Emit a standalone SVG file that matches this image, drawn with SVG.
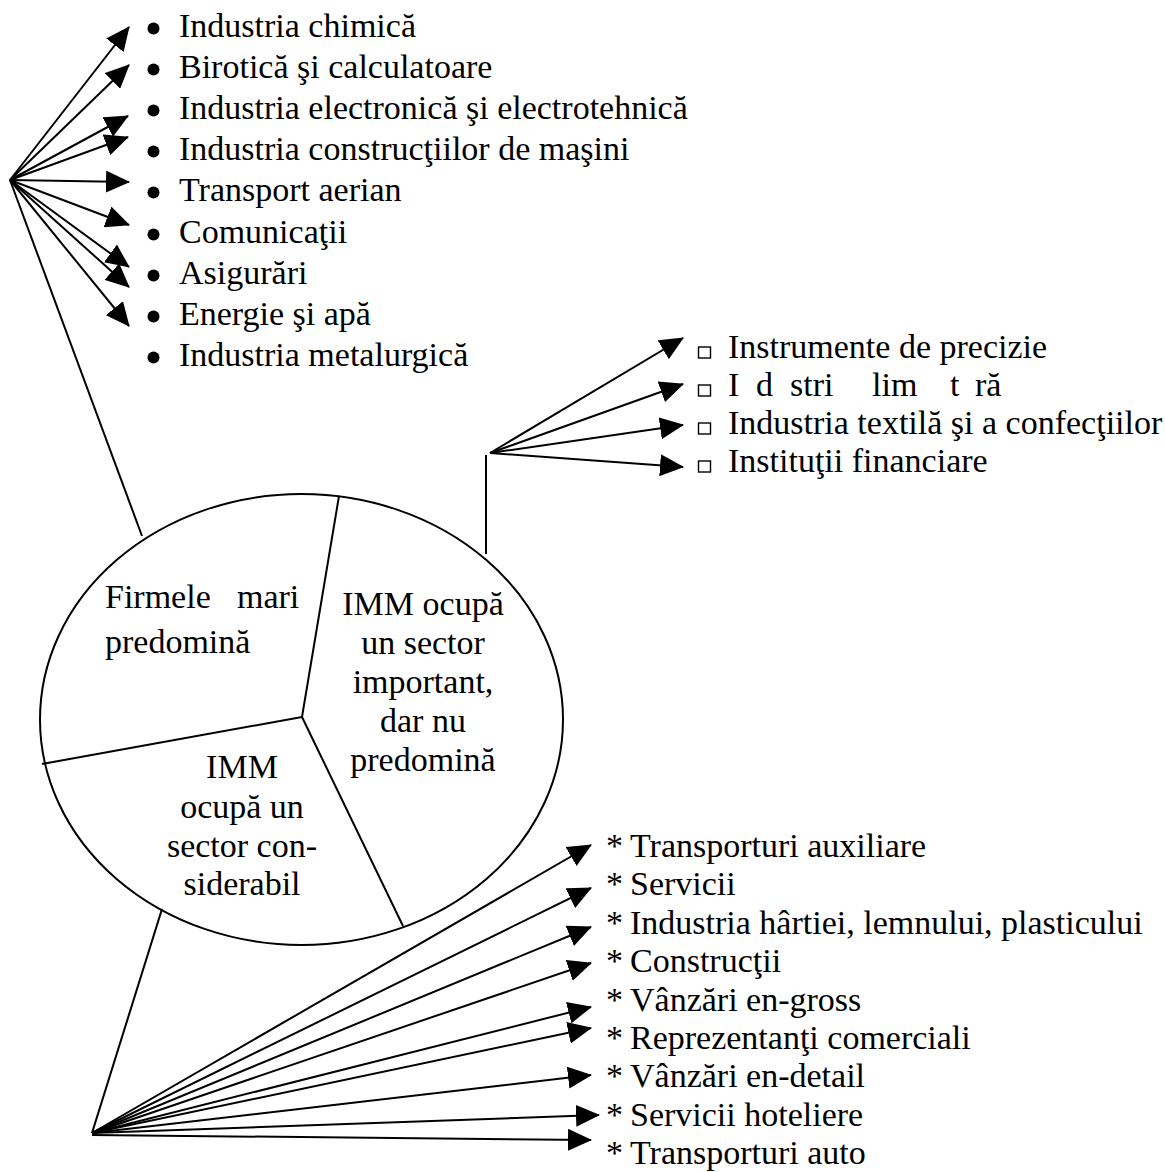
<svg xmlns="http://www.w3.org/2000/svg" width="1165" height="1172" viewBox="0 0 1165 1172">
<style>
  text { font-family: "Liberation Serif", "Times New Roman", serif; font-size: 34px; fill: #000; }
  .c { text-anchor: middle; }
  .ln { stroke: #000; stroke-width: 2; fill: none; }
  .ar { stroke: #000; stroke-width: 2; fill: none; marker-end: url(#ah); }
  .dot { fill: #000; }
  .sq { fill: #fff; stroke: #000; stroke-width: 1.4; }
</style>
<defs>
  <marker id="ah" markerUnits="userSpaceOnUse" markerWidth="24" markerHeight="22" refX="23" refY="11" orient="auto">
    <path d="M0,0 L24,11 L0,22 z" fill="#000"/>
  </marker>
</defs>
<rect width="1165" height="1172" fill="#fff"/>

<g id="connectors">
  <!-- top-left fan -->
  <line class="ar" x1="10" y1="180" x2="129" y2="27"/>
  <line class="ar" x1="10" y1="180" x2="129" y2="65"/>
  <line class="ar" x1="10" y1="180" x2="128" y2="116"/>
  <line class="ar" x1="10" y1="180" x2="128" y2="137"/>
  <line class="ar" x1="10" y1="180" x2="129" y2="182"/>
  <line class="ar" x1="10" y1="180" x2="129" y2="225"/>
  <line class="ar" x1="10" y1="180" x2="129" y2="267"/>
  <line class="ar" x1="10" y1="180" x2="129" y2="287"/>
  <line class="ar" x1="10" y1="180" x2="129" y2="326"/>
  <line class="ln" x1="10" y1="180" x2="142" y2="536"/>
  <!-- right fan -->
  <line class="ln" x1="486" y1="455" x2="486" y2="554"/>
  <line class="ar" x1="490" y1="453" x2="683" y2="338"/>
  <line class="ar" x1="490" y1="453" x2="683" y2="384"/>
  <line class="ar" x1="490" y1="453" x2="683" y2="425"/>
  <line class="ar" x1="490" y1="453" x2="683" y2="467"/>
  <!-- bottom fan -->
  <line class="ln" x1="92" y1="1133" x2="162" y2="909"/>
  <line class="ar" x1="92" y1="1133" x2="591" y2="845"/>
  <line class="ar" x1="92" y1="1133" x2="591" y2="888"/>
  <line class="ar" x1="92" y1="1133" x2="591" y2="927"/>
  <line class="ar" x1="92" y1="1133" x2="591" y2="963"/>
  <line class="ar" x1="92" y1="1133" x2="591" y2="1007"/>
  <line class="ar" x1="92" y1="1133" x2="591" y2="1028"/>
  <line class="ar" x1="92" y1="1133" x2="591" y2="1075"/>
  <line class="ar" x1="92" y1="1133" x2="599" y2="1115"/>
  <line class="ar" x1="92" y1="1135" x2="591" y2="1140"/>
</g>

<g id="pie">
  <ellipse class="ln" cx="301.5" cy="719.5" rx="261.5" ry="225.5"/>
  <line class="ln" x1="302" y1="717" x2="339" y2="496"/>
  <line class="ln" x1="302" y1="717" x2="42" y2="764"/>
  <line class="ln" x1="302" y1="717" x2="403" y2="926"/>
</g>

<g id="sector-firme-mari">
  <text x="105" y="608">Firmele</text>
  <text x="237" y="608">mari</text>
  <text x="105" y="653">predomină</text>
</g>

<g id="sector-imm-important">
  <text class="c" x="423" y="615">IMM ocupă</text>
  <text class="c" x="423" y="654">un sector</text>
  <text class="c" x="423" y="693">important,</text>
  <text class="c" x="423" y="732">dar nu</text>
  <text class="c" x="423" y="771">predomină</text>
</g>

<g id="sector-imm-considerabil">
  <text class="c" x="242" y="778">IMM</text>
  <text class="c" x="242" y="818">ocupă un</text>
  <text class="c" x="242" y="857">sector con-</text>
  <text class="c" x="242" y="895">siderabil</text>
</g>

<g id="list-firme-mari">
  <circle class="dot" cx="153.5" cy="28.5" r="6"/><text x="179" y="37">Industria chimică</text>
  <circle class="dot" cx="153.5" cy="69.5" r="6"/><text x="179" y="78">Birotică şi calculatoare</text>
  <circle class="dot" cx="153.5" cy="110.5" r="6"/><text x="179" y="119">Industria electronică şi electrotehnică</text>
  <circle class="dot" cx="153.5" cy="151.5" r="6"/><text x="179" y="160">Industria construcţiilor de maşini</text>
  <circle class="dot" cx="153.5" cy="192.5" r="6"/><text x="179" y="201">Transport aerian</text>
  <circle class="dot" cx="153.5" cy="234.5" r="6"/><text x="179" y="243">Comunicaţii</text>
  <circle class="dot" cx="153.5" cy="275.5" r="6"/><text x="179" y="284">Asigurări</text>
  <circle class="dot" cx="153.5" cy="316.5" r="6"/><text x="179" y="325">Energie şi apă</text>
  <circle class="dot" cx="153.5" cy="357.5" r="6"/><text x="179" y="366">Industria metalurgică</text>
</g>

<g id="list-imm-important">
  <rect class="sq" x="698.5" y="347" width="12" height="11"/><text x="728" y="358">Instrumente de precizie</text>
  <rect class="sq" x="698.5" y="385" width="12" height="11"/><text y="396"><tspan x="728">I</tspan><tspan x="756">d</tspan><tspan x="790">stri</tspan><tspan x="872">lim</tspan><tspan x="950">t</tspan><tspan x="975">ră</tspan></text>
  <rect class="sq" x="698.5" y="423" width="12" height="11"/><text x="728" y="434">Industria textilă şi a confecţiilor</text>
  <rect class="sq" x="698.5" y="461" width="12" height="11"/><text x="728" y="472">Instituţii financiare</text>
</g>

<g id="list-imm-considerabil">
  <text y="857"><tspan x="606">*</tspan><tspan x="630">Transporturi auxiliare</tspan></text>
  <text y="895"><tspan x="606">*</tspan><tspan x="630">Servicii</tspan></text>
  <text y="934"><tspan x="606">*</tspan><tspan x="630">Industria hârtiei, lemnului, plasticului</tspan></text>
  <text y="972"><tspan x="606">*</tspan><tspan x="630">Construcţii</tspan></text>
  <text y="1011"><tspan x="606">*</tspan><tspan x="630">Vânzări en-gross</tspan></text>
  <text y="1049"><tspan x="606">*</tspan><tspan x="630">Reprezentanţi comerciali</tspan></text>
  <text y="1087"><tspan x="606">*</tspan><tspan x="630">Vânzări en-detail</tspan></text>
  <text y="1126"><tspan x="606">*</tspan><tspan x="630">Servicii hoteliere</tspan></text>
  <text y="1164"><tspan x="606">*</tspan><tspan x="630">Transporturi auto</tspan></text>
</g>
</svg>
